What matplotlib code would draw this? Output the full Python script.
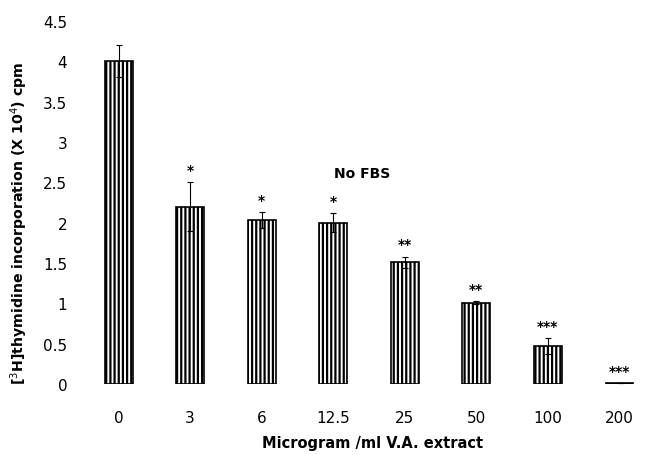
import matplotlib
matplotlib.use("Agg")
import matplotlib.pyplot as plt
import numpy as np

plt.rcParams['font.family'] = ['DejaVu Sans']
plt.rcParams['hatch.linewidth'] = 1.6

categories = ["0", "3", "6", "12.5", "25", "50", "100", "200"]
values = [4.0, 2.2, 2.03, 2.0, 1.51, 1.01, 0.47, 0.01]
errors = [0.2, 0.3, 0.1, 0.12, 0.07, 0.02, 0.1, 0.0]
stars = ["", "*", "*", "*", "**", "**", "***", "***"]
yticks = [0, 0.5, 1, 1.5, 2, 2.5, 3, 3.5, 4, 4.5]
ytick_labels = ["0", "0.5", "1", "1.5", "2", "2.5", "3", "3.5", "4", "4.5"]

fig = plt.figure(figsize=(6.51, 4.56), dpi=100)
ax = fig.add_axes([95/651, 1 - 385/456, 556/651, 363/456])

x = np.arange(len(categories))
ax.bar(x, values, width=0.39, color="white", edgecolor="black", hatch="||||",
       linewidth=1.2)
ax.errorbar(x, values, yerr=errors, fmt="none", ecolor="black", elinewidth=0.8,
            capsize=2.5, capthick=0.8)

for xi, v, e, s in zip(x, values, errors, stars):
    if s:
        ax.text(xi, v + e + 0.15, s, ha="center", va="center", fontsize=10,
                fontweight="bold")

ax.text(3.4, 2.62, "No FBS", ha="center", va="center", fontsize=10,
        fontweight="bold")

ax.set_xlim(-0.33, 7.44)
ax.set_ylim(0, 4.5)
ax.set_xticks(x)
ax.set_xticklabels(categories, fontsize=11)
ax.set_yticks(yticks)
ax.set_yticklabels(ytick_labels, fontsize=11)
ax.tick_params(axis="both", length=0)
ax.tick_params(axis="x", pad=19)
ax.tick_params(axis="y", pad=20)
for sp in ax.spines.values():
    sp.set_visible(False)

ax.set_xlabel("Microgram /ml V.A. extract", fontsize=10.5, fontweight="bold",
              labelpad=7)
ax.set_ylabel(r"[$^{3}$H]thymidine incorporation (X 10$^{4}$) cpm", fontsize=10.2,
              fontweight="bold")
ax.yaxis.set_label_coords(-0.117, 0.446)

fig.savefig("out.png", dpi=100)
